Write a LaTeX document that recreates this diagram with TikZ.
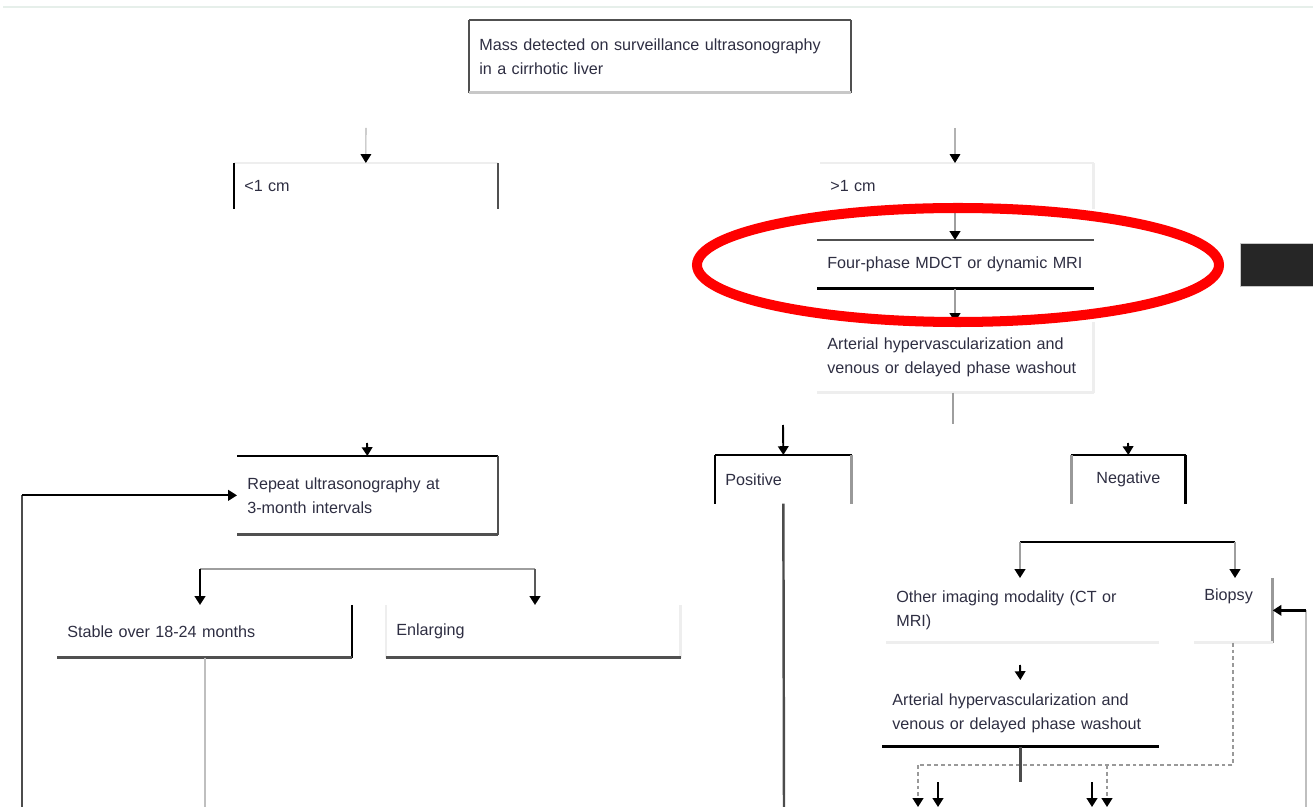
\documentclass[tikz,border=0pt]{standalone}
\usepackage{fontspec}
\setmainfont{Liberation Sans}
\usepackage{xcolor}
\usetikzlibrary{positioning, arrows.meta, calc}

\definecolor{ink}{HTML}{2E2E42}
\definecolor{rimdark}{HTML}{505050}
\definecolor{rimmid}{HTML}{999999}
\definecolor{rimlight}{HTML}{C8C8C8}
\definecolor{rimfaint}{HTML}{EEEEEE}
\definecolor{topline}{HTML}{E6EFEA}
\definecolor{darkblock}{HTML}{262626}

\def\px{0.02cm}

\tikzset{
    box/.style 2 args={anchor=north west, minimum width=#1*\px, minimum height=#2*\px,
        text width=(#1-20)*\px, inner xsep=10*\px, inner ysep=0pt, align=left,
        font=\fontsize{9.2}{13.6}\selectfont, text=ink},
    sblack/.style={black, line width=1.7pt},
    sblackthin/.style={black, line width=1.2pt},
    sdark/.style={rimdark, line width=1.7pt},
    sdarkthin/.style={rimdark, line width=1.2pt},
    smid/.style={rimmid, line width=1.7pt},
    slight/.style={rimlight, line width=1.7pt},
    sfaint/.style={rimfaint, line width=1.7pt},
    thinlink/.style={draw=black!30, line width=0.6pt, ->},
    graylink/.style={draw=black!38, line width=1.1pt, ->},
    blacklink/.style={draw=black, line width=1.1pt, ->},
    darklink/.style={draw=black!65, line width=1.1pt, ->},
    grayline/.style={draw=black!38, line width=1.1pt},
    darkline/.style={draw=black!70, line width=1.4pt},
    paleline/.style={draw=black!25, line width=1.1pt},
    blackline/.style={draw=black, line width=1.4pt},
    dotline/.style={draw=black!40, line width=1.1pt, dash pattern=on 2.2pt off 1.7pt},
    dotlink/.style={dotline, ->},
}

\begin{document}
\begin{tikzpicture}[x=\px, y=-\px, >={Triangle[width=6pt, length=5pt, color=black]}]
    \useasboundingbox (0,0) rectangle (1313,807);

    % page rule
    \draw[topline, line width=1.7pt] (3,7) -- (1313,7);

    % boxes
    \node[box={381}{72}] (mass) at (469,20) {Mass detected on surveillance ultrasonography\\in a cirrhotic liver};
    \node[box={263}{45}] (small) at (234,163) {<1 cm};
    \node[box={273}{45}] (large) at (820,163) {>1 cm};
    \node[box={276}{48}] (four) at (817,240) {Four-phase MDCT or dynamic MRI};
    \node[box={276}{70}] (arter) at (817,322) {Arterial hypervascularization and\\venous or delayed phase washout};
    \node[box={260}{78}] (repeat) at (237,456) {Repeat ultrasonography at\\3-month intervals};
    \node[box={136}{48}] (pos) at (715,455) {Positive};
    \node[box={114}{48}, align=center] (neg) at (1071,455) {Negative};
    \node[box={294}{52}] (stable) at (57,605) {Stable over 18-24 months};
    \node[box={294}{52}] (enlarge) at (386,605) {Enlarging};
    \node[box={272}{64}] (other) at (886,578) {Other imaging modality (CT or\\MRI)};
    \node[box={78}{64}] (biopsy) at (1194,578) {Biopsy\\\strut};
    \node[box={276}{66}] (arter2) at (882,680) {Arterial hypervascularization and\\venous or delayed phase washout};

    % box sides
    \foreach \n/\a/\b/\s in {
        mass/north west/north east/sdark,
        mass/north west/south west/sdarkthin,
        mass/north east/south east/sdarkthin,
        mass/south west/south east/slight,
        small/north west/north east/sfaint,
        small/north west/south west/sblackthin,
        small/north east/south east/sdarkthin,
        large/north west/north east/sfaint,
        large/north east/south east/sfaint,
        four/north west/north east/sdark,
        four/south west/south east/sblack,
        arter/south west/south east/sfaint,
        arter/north east/south east/sfaint,
        repeat/north west/north east/sblack,
        repeat/north east/south east/sdarkthin,
        repeat/south west/south east/sdark,
        pos/north west/north east/sblack,
        pos/north west/south west/sblackthin,
        pos/north east/south east/smid,
        neg/north west/north east/sblack,
        neg/north west/south west/smid,
        neg/north east/south east/sblack,
        stable/north east/south east/sblackthin,
        stable/south west/south east/sdark,
        enlarge/north west/south west/sfaint,
        enlarge/north east/south east/sfaint,
        enlarge/south west/south east/sdark,
        other/south west/south east/sfaint,
        biopsy/north east/south east/smid,
        biopsy/south west/south east/sfaint,
        arter2/south west/south east/sblack}{
        \draw[\s] (\n.\a) -- (\n.\b);
    }

    % loose ends
    \coordinate (small-in) at (366,128);
    \coordinate (large-in) at (955,128);
    \coordinate (split) at (953,424);
    \coordinate (pos-in) at (783,425);
    \coordinate (neg-in) at (1128,443);
    \coordinate (rep-in) at (367,443);
    \coordinate (back) at (22,807);
    \coordinate (fork-l) at (200,569);
    \coordinate (fork-r) at (535,569);
    \coordinate (stable-out) at (205,807);
    \coordinate (pos-out) at (784,807);
    \coordinate (nfork-l) at (1020,542);
    \coordinate (nfork-r) at (1235,542);
    \coordinate (arter2-in) at (1020,665);
    \coordinate (bio-back) at (1306,807);
    \coordinate (dot-l) at (918,765);
    \coordinate (dot-r) at (1107,765);
    \coordinate (out-l) at (938,782);
    \coordinate (out-r) at (1092,782);

    % connectors
    \draw[thinlink] (small-in) -- (small.north);
    \draw[thinlink] (large-in) -- (large-in |- large.north);
    \draw[graylink] (large-in |- large.south) -- (large-in |- four.north);
    \draw[graylink] (large-in |- four.south) -- (large-in |- arter.north);
    \draw[grayline] (split |- arter.south) -- (split);
    \draw[blacklink] (pos-in) -- (pos.north);
    \draw[blacklink] (neg-in) -- (neg.north);
    \draw[blacklink] (rep-in) -- (repeat.north);
    \draw[darkline] (back) -- (back |- repeat.west);
    \draw[blacklink] (back |- repeat.west) -- (repeat.west);
    \draw[grayline] (fork-l) -- (fork-r);
    \draw[blacklink] (fork-l) -- (fork-l |- stable.north);
    \draw[darklink] (fork-r) -- (fork-r |- enlarge.north);
    \draw[paleline] (stable-out |- stable.south) -- (stable-out);
    \draw[darkline] (pos.south) -- (pos-out);
    \draw[blackline] (nfork-l) -- (nfork-r);
    \draw[graylink] (nfork-l) -- (nfork-l |- other.north);
    \draw[graylink] (nfork-r) -- (nfork-r |- biopsy.north);
    \draw[blacklink] (arter2-in) -- (arter2.north);
    \draw[paleline] (bio-back) -- (bio-back |- biopsy.east);
    \draw[blacklink, line width=1.7pt] (bio-back |- biopsy.east) -- (biopsy.east);
    \draw[dotline] (biopsy.south) |- (dot-l);
    \draw[dotlink] (dot-l) -- (dot-l |- back);
    \draw[dotlink] (dot-r) -- (dot-r |- back);
    \draw[darkline] (arter2.south) -- (arter2.south |- out-l);
    \draw[blacklink] (out-l) -- (out-l |- back);
    \draw[blacklink] (out-r) -- (out-r |- back);

    % mark and side block
    \draw[red, line width=5.7pt] (958,265) ellipse [x radius=261*\px, y radius=57*\px];
    \fill[darkblock] (1240,243) rectangle (1313,286);
    \draw[rimlight, line width=0.4pt] (1240,243) rectangle (1313,286);
\end{tikzpicture}
\end{document}
